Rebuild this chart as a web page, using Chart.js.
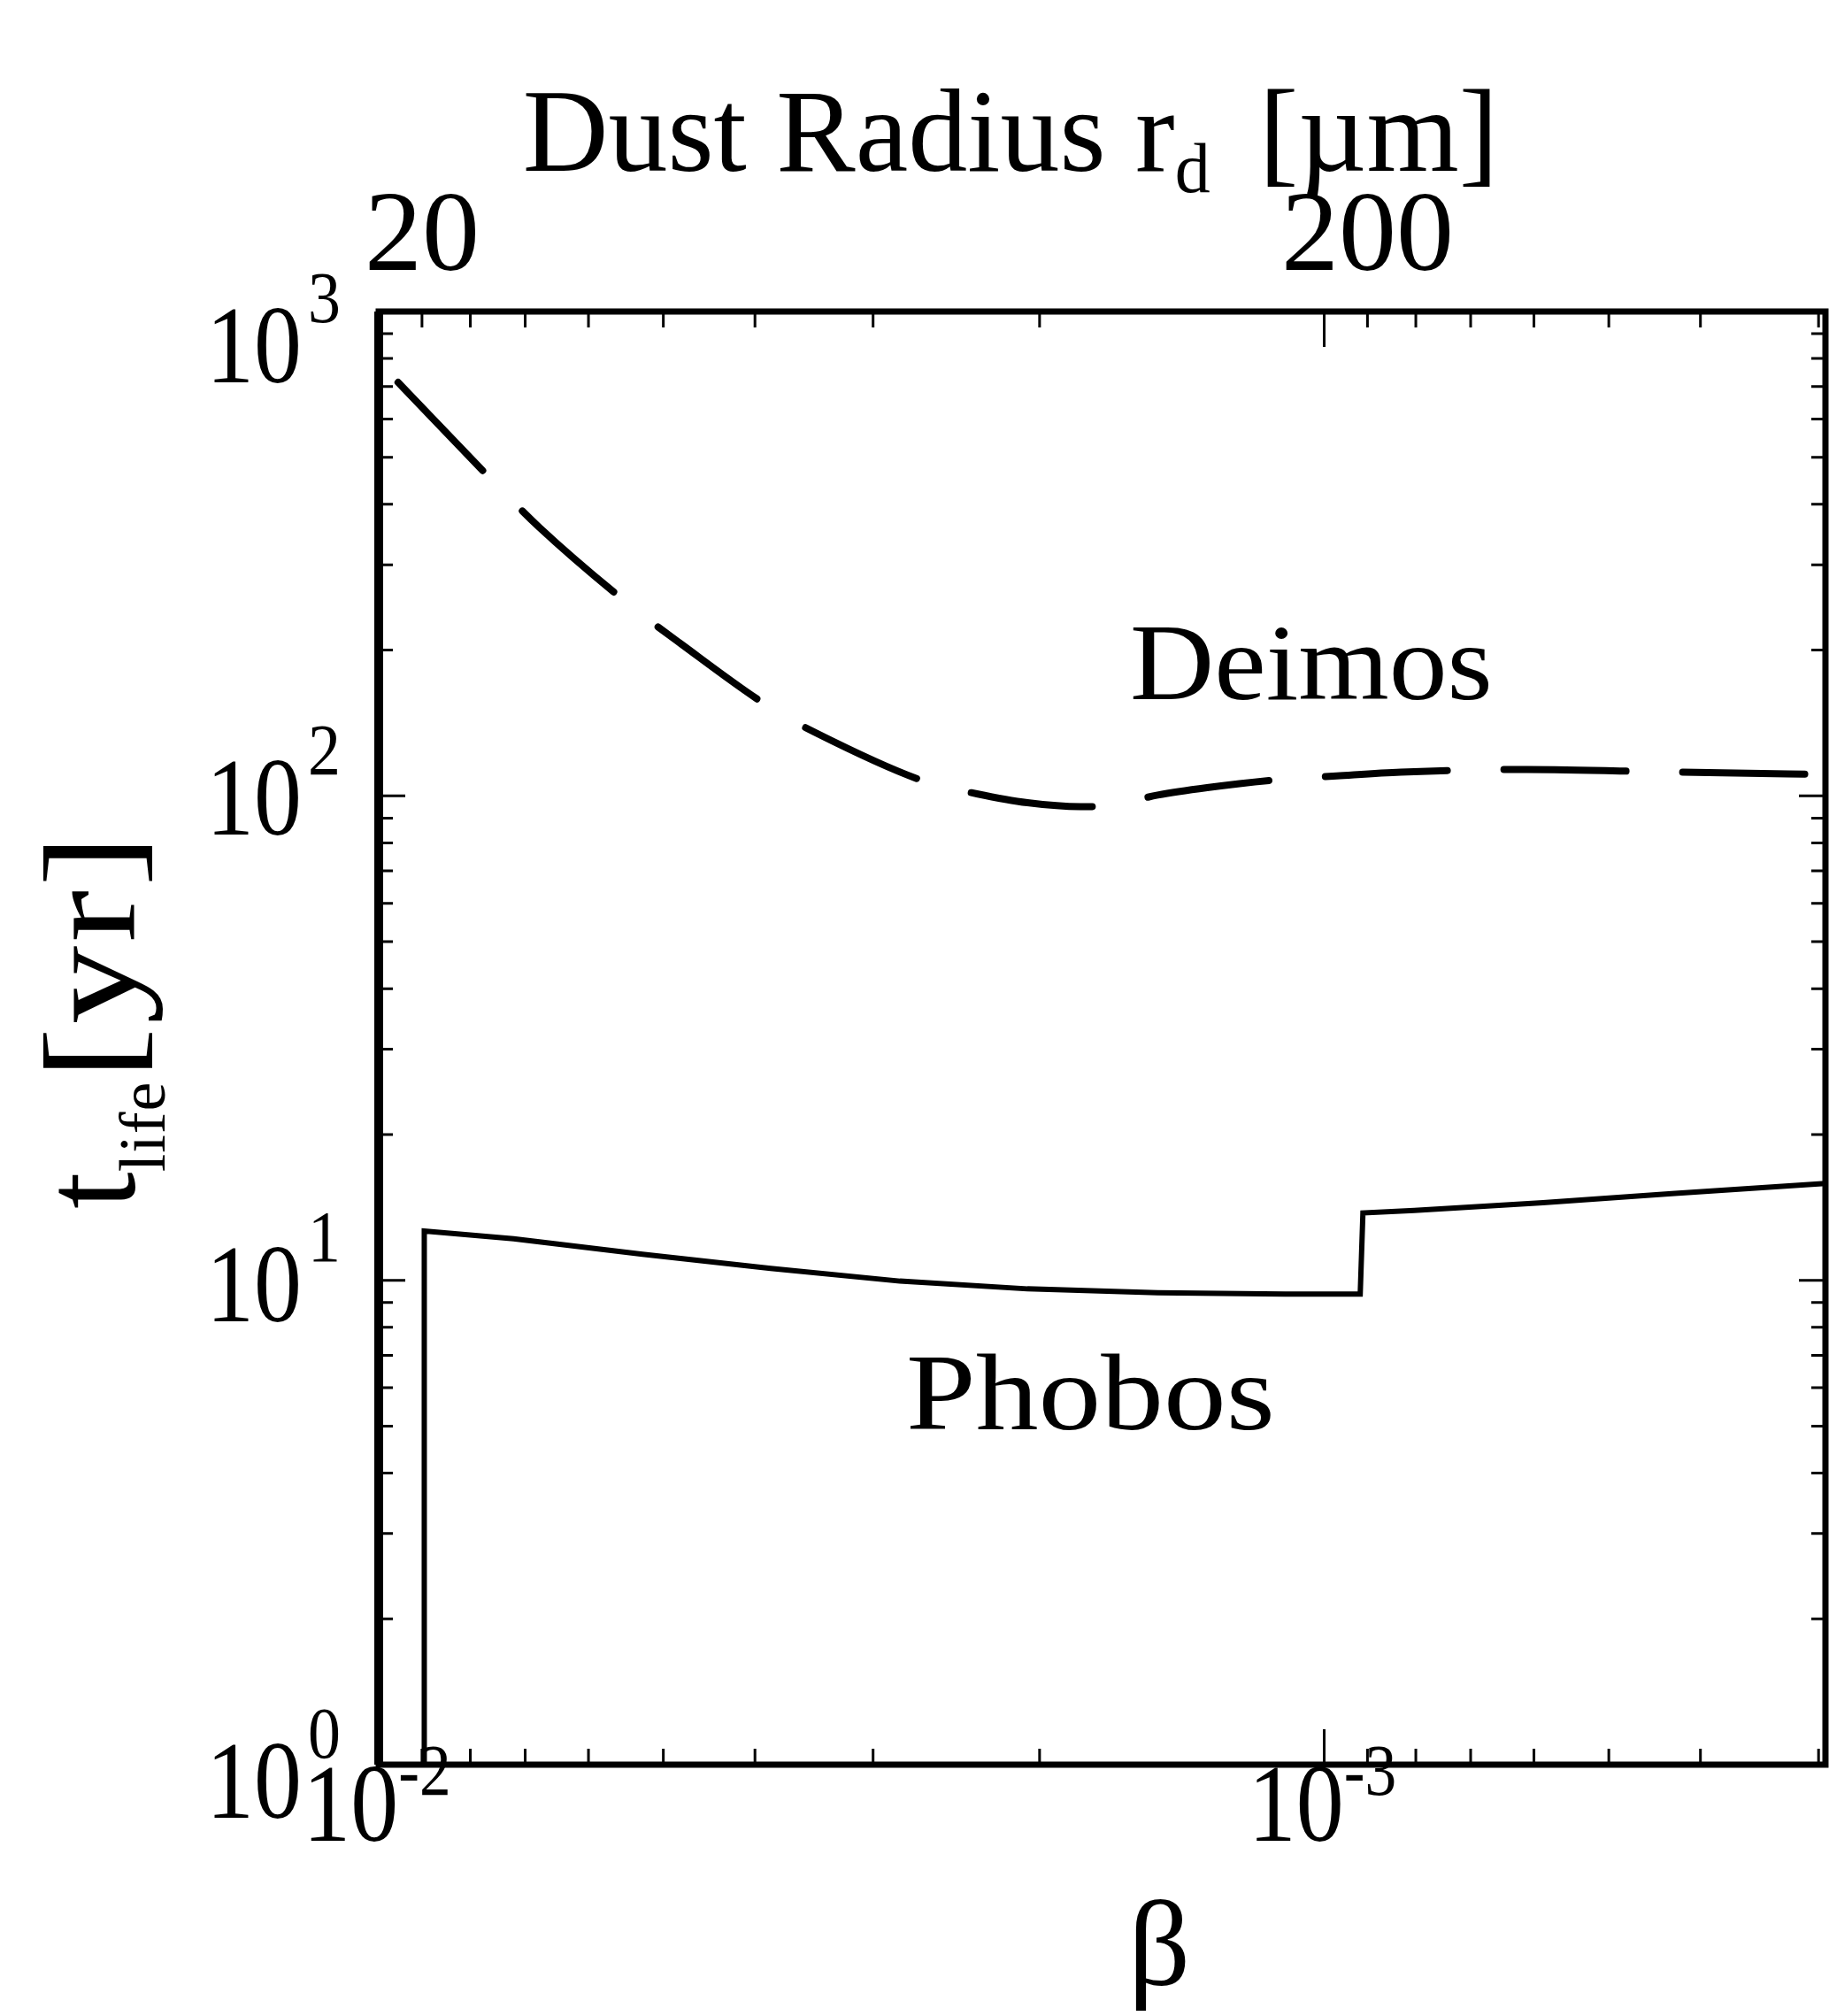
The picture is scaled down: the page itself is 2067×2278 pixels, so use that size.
<!DOCTYPE html>
<html>
<head>
<meta charset="utf-8">
<script src="https://cdn.jsdelivr.net/npm/chart.js@4/dist/chart.umd.min.js"></script>
<style>
  html, body { margin: 0; padding: 0; background: #fff; }
  #wrap { width: 2067px; height: 2278px; }
</style>
</head>
<body>
<div id="wrap"><canvas id="dust-life" width="2067" height="2278"></canvas></div>
<script>
// dust lifetime vs beta - Deimos dashed, Phobos solid
const deimosBeta = [0.00954, 0.00754, 0.00676, 0.00543, 0.00479, 0.00385, 0.00345, 0.00264, 0.00233, 0.00206,
                    0.00181, 0.00168, 0.00150, 0.00133, 0.00112, 0.00097, 0.00083, 0.00061, 0.00043, 0.000295];
const deimosLife = [714, 443, 358, 248, 206, 152, 135, 107, 101, 96.8,
                    95.0, 95.6, 100.4, 104, 108, 110, 112, 113.4, 112, 110.7];

const phobosBeta = [0.00895, 0.00895, 0.00720, 0.00526, 0.00385, 0.00281, 0.00206, 0.00150, 0.00110, 0.000916,
                    0.000910, 0.000803, 0.000587, 0.000429, 0.000295];
const phobosLife = [1, 12.64, 12.18, 11.32, 10.58, 9.96, 9.60, 9.42, 9.37, 9.37,
                    13.77, 13.94, 14.46, 15.09, 15.85];

// axes
const betaRange = [0.000295, 0.01];
const lifeRange = [1, 1000];
const radiusRange = [18, 610];   // r_d = 0.18 / beta
const xTickValues = [0.01, 0.001];
const xTickExp = ['-2', '-3'];
const xMinorTicks = [0.009, 0.008, 0.007, 0.006, 0.005, 0.004, 0.003, 0.002,
                     0.0009, 0.0008, 0.0007, 0.0006, 0.0005, 0.0004, 0.0003];
const yTickValues = [1, 10, 100, 1000];
const yTickExp = ['0', '1', '2', '3'];
const rTickValues = [20, 200];
const rTickLabels = ['20', '200'];

const serif = '"Liberation Serif", "Times New Roman", serif';
const font = size => size + 'px ' + serif;

// pieces: [text, size, rise, letterSpacing, gapBefore]
function drawPieces(ctx, pieces, x, y, align) {
  const widthOf = p => {
    ctx.font = font(p[1]);
    ctx.letterSpacing = (p[3] || 0) + 'px';
    return ctx.measureText(p[0]).width + (p[4] || 0);
  };
  let total = 0;
  pieces.forEach(p => { total += widthOf(p); });
  let cx = align === 'center' ? x - total / 2 : (align === 'right' ? x - total : x);
  pieces.forEach(p => {
    const w = widthOf(p);
    ctx.fillText(p[0], cx + (p[4] || 0), y - p[2]);
    cx += w;
  });
  ctx.letterSpacing = '0px';
}

// same, stretched or squeezed sideways like the old plot lettering
function drawScaled(ctx, pieces, x, y, align, sx) {
  ctx.save();
  ctx.translate(x, y);
  ctx.scale(sx, 1);
  drawPieces(ctx, pieces, 0, 0, align);
  ctx.restore();
}

const frameLabels = {
  id: 'frameLabels',
  afterDatasetsDraw(chart) {
    const {ctx, chartArea: a} = chart;
    const {x, y, x2} = chart.scales;
    ctx.save();
    ctx.strokeStyle = '#000';
    ctx.fillStyle = '#000';
    ctx.textAlign = 'left';
    ctx.textBaseline = 'alphabetic';

    // frame
    ctx.lineWidth = 7;
    ctx.strokeRect(a.left, a.top, a.right - a.left, a.bottom - a.top);
    ctx.lineWidth = 10;
    ctx.beginPath();
    ctx.moveTo(a.left, a.top);
    ctx.lineTo(a.left, a.bottom);
    ctx.stroke();

    // ticks
    ctx.lineWidth = 3;
    ctx.beginPath();
    xTickValues.concat(xMinorTicks).forEach(v => {
      const px = x.getPixelForValue(v);
      const len = xTickValues.includes(v) ? 40 : 18;
      ctx.moveTo(px, a.bottom); ctx.lineTo(px, a.bottom - len);
      ctx.moveTo(px, a.top); ctx.lineTo(px, a.top + len);
    });
    [1, 10, 100].forEach(dec => {
      for (let m = 1; m < 10; m++) {
        const py = y.getPixelForValue(m * dec);
        const len = m === 1 ? 30 : 16;
        ctx.moveTo(a.left, py); ctx.lineTo(a.left + len, py);
        ctx.moveTo(a.right, py); ctx.lineTo(a.right - len, py);
      }
    });
    ctx.stroke();

    // y tick labels
    const yShift = [18, 4, 2, 38];
    yTickValues.forEach((v, i) => {
      const py = y.getPixelForValue(v) + yShift[i];
      drawScaled(ctx, [['10', 124, 0]], 341, py + 42, 'right', 0.87);
      drawScaled(ctx, [[yTickExp[i], 82, 0]], 348, py - 26, 'left', 0.9);
    });

    // bottom tick labels
    xTickValues.forEach((v, i) => {
      const px = x.getPixelForValue(v) - 2;
      drawScaled(ctx, [['10', 124, 0], [xTickExp[i], 82, 52]], px, 2080, 'center', 0.87);
    });

    // top tick labels (dust radius)
    rTickValues.forEach((v, i) => {
      drawPieces(ctx, [[rTickLabels[i], 130, 0]], x2.getPixelForValue(v), 305, 'center');
    });

    // titles
    drawPieces(ctx, [['Dust Radius r', 134, 0], ['d', 80, -24], ['[\u00b5m]', 134, 0, 0, 55]], 1142, 193, 'center');
    drawPieces(ctx, [['\u03b2', 138, 0]], 1310, 2243, 'center');

    ctx.save();
    ctx.translate(152, 1366);
    ctx.rotate(-Math.PI / 2);
    drawPieces(ctx, [['t', 150, 0], ['life', 74, -34, 1]], 0, 0, 'left');
    drawScaled(ctx, [['[yr]', 148, 0, 3]], 146, 0, 'left', 1.2);
    ctx.restore();

    // curve names
    drawScaled(ctx, [['Deimos', 122, 0]], 1277, 790, 'left', 1.08);
    drawScaled(ctx, [['Phobos', 122, 0]], 1024, 1615, 'left', 1.16);

    ctx.restore();
  }
};

const dataLife = {
  datasets: [
    {
      label: 'Deimos',
      data: deimosBeta.map((b, i) => ({x: b, y: deimosLife[i]})),
      borderColor: '#000',
      borderWidth: 8,
      borderDash: [138, 64],
      borderCapStyle: 'round',
      cubicInterpolationMode: 'monotone',
      pointRadius: 0,
      showLine: true,
      fill: false
    },
    {
      label: 'Phobos',
      data: phobosBeta.map((b, i) => ({x: b, y: phobosLife[i]})),
      borderColor: '#000',
      borderWidth: 6,
      tension: 0,
      pointRadius: 0,
      showLine: true,
      fill: false
    }
  ]
};

const configLife = {
  type: 'scatter',
  data: dataLife,
  options: {
    responsive: false,
    animation: false,
    devicePixelRatio: 1,
    layout: { padding: { left: 428, right: 4, top: 352, bottom: 284 } },
    plugins: { legend: { display: false }, tooltip: { enabled: false } },
    scales: {
      x: { type: 'logarithmic', reverse: true, min: betaRange[0], max: betaRange[1], display: false },
      x2: { type: 'logarithmic', axis: 'x', position: 'top', min: radiusRange[0], max: radiusRange[1], display: false },
      y: { type: 'logarithmic', min: lifeRange[0], max: lifeRange[1], display: false }
    }
  },
  plugins: [frameLabels]
};

const ChartLife = new Chart(document.getElementById('dust-life'), configLife);
</script>
</body>
</html>
